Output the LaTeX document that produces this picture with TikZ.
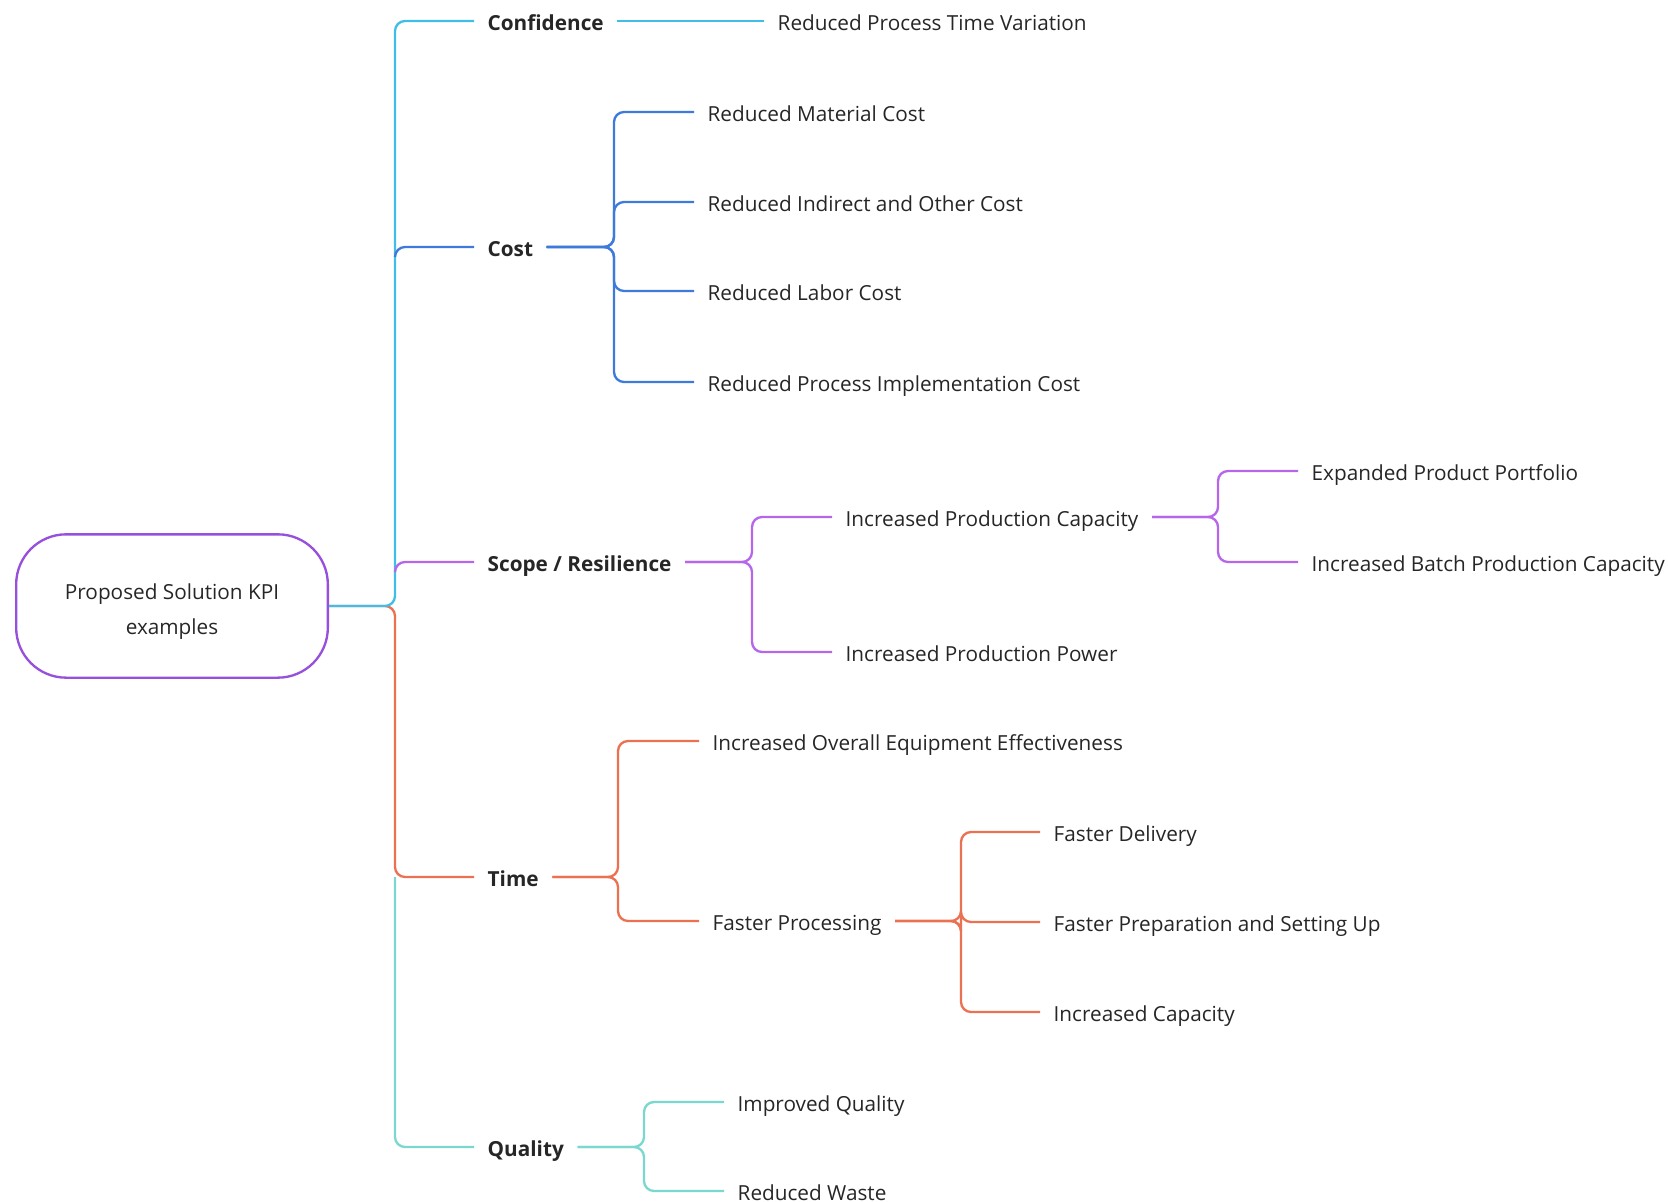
\documentclass[tikz,border=0pt]{standalone}
\usepackage{fontspec}
\setmainfont{Open Sans}
\usetikzlibrary{positioning}

\definecolor{rootcol}{RGB}{150,80,220}
\definecolor{confcol}{RGB}{64,190,232}
\definecolor{costcol}{RGB}{62,122,218}
\definecolor{scopecol}{RGB}{182,102,232}
\definecolor{timecol}{RGB}{234,114,82}
\definecolor{qualcol}{RGB}{122,216,206}

\tikzset{
  topic/.style={anchor=west, inner xsep=8pt, inner ysep=0pt, text height=1.1em,
    text depth=0pt, font=\fontsize{12.45}{15}\selectfont\bfseries},
  leaf/.style={anchor=west, inner xsep=8pt, inner ysep=0pt, text height=1.1em,
    text depth=0pt},
  link/.style={line width=1.4pt, rounded corners=6pt}
}

\begin{document}
\begin{tikzpicture}[x=0.6pt,y=-0.6pt,
  every node/.style={text=black!85, font=\fontsize{12.45}{15}\selectfont}]

\useasboundingbox (0,0) rectangle (1668,1202);

% root
\node[draw=rootcol, line width=1.4pt, rounded corners=30pt, minimum width=187pt,
  minimum height=86pt, font=\fontsize{12.45}{21}\selectfont]
  (root) at (172,606) {\raisebox{-2.6pt}[\height][\depth]{%
    \begin{tabular}{@{}c@{}}Proposed Solution KPI\\examples\end{tabular}}};
\coordinate (trunk) at (395,606);

% first level
\node[topic] (conf)  at (474,21)   {Confidence};
\node[topic] (cost)  at (474,247)  {Cost};
\node[topic] (scope) at (474,562)  {Scope / Resilience};
\node[topic] (time)  at (474,877)  {Time};
\node[topic] (qual)  at (474,1147) {Quality};

% confidence
\node[leaf] (conf1) at (764,21) {Reduced Process Time Variation};

% cost
\coordinate (costj) at (614,247);
\node[leaf] (cost1) at (694,112) {Reduced Material Cost};
\node[leaf] (cost2) at (694,202) {Reduced Indirect and Other Cost};
\node[leaf] (cost3) at (694,291) {Reduced Labor Cost};
\node[leaf] (cost4) at (694,382) {Reduced Process Implementation Cost};

% scope / resilience
\coordinate (scopej) at (752,562);
\node[leaf] (scope1) at (832,517) {Increased Production Capacity};
\node[leaf] (scope2) at (832,652) {Increased Production Power};
\coordinate (scope1j) at (1218,517);
\node[leaf] (scope11) at (1298,471) {Expanded Product Portfolio};
\node[leaf] (scope12) at (1298,562) {Increased Batch Production Capacity};

% time
\coordinate (timej) at (618,877);
\node[leaf] (time1) at (699,741) {Increased Overall Equipment Effectiveness};
\node[leaf] (time2) at (699,921) {Faster Processing};
\coordinate (time2j) at (961,921);
\node[leaf] (time21) at (1040,832)  {Faster Delivery};
\node[leaf] (time22) at (1040,922)  {Faster Preparation and Setting Up};
\node[leaf] (time23) at (1040,1012) {Increased Capacity};

% quality
\coordinate (qualj) at (644,1147);
\node[leaf] (qual1) at (724,1102) {Improved Quality};
\node[leaf] (qual2) at (724,1191) {Reduced Waste};

% trunk
\draw[link, qualcol] (trunk |- time.west) |- (qual.west);
\draw[link, timecol] (root.east) -- (trunk) |- (time.west);
\draw[link, confcol] (root.east) -- (trunk) |- (conf.west);
\draw[link, costcol] (trunk |- cost.west) ++(0,10) |- (cost.west);
\draw[link, scopecol] (trunk |- scope.west) ++(0,10) |- (scope.west);

% branches
\draw[link, confcol] (conf.east) -- (conf1.west);
\foreach \c in {cost1,cost2,cost3,cost4}
  \draw[link, costcol] (cost.east) -- (costj) |- (\c.west);
\foreach \c in {scope1,scope2}
  \draw[link, scopecol] (scope.east) -- (scopej) |- (\c.west);
\foreach \c in {scope11,scope12}
  \draw[link, scopecol] (scope1.east) -- (scope1j) |- (\c.west);
\foreach \c in {time1,time2}
  \draw[link, timecol] (time.east) -- (timej) |- (\c.west);
\foreach \c in {time21,time22,time23}
  \draw[link, timecol] (time2.east) -- (time2j) |- (\c.west);
\foreach \c in {qual1,qual2}
  \draw[link, qualcol] (qual.east) -- (qualj) |- (\c.west);

\end{tikzpicture}
\end{document}
